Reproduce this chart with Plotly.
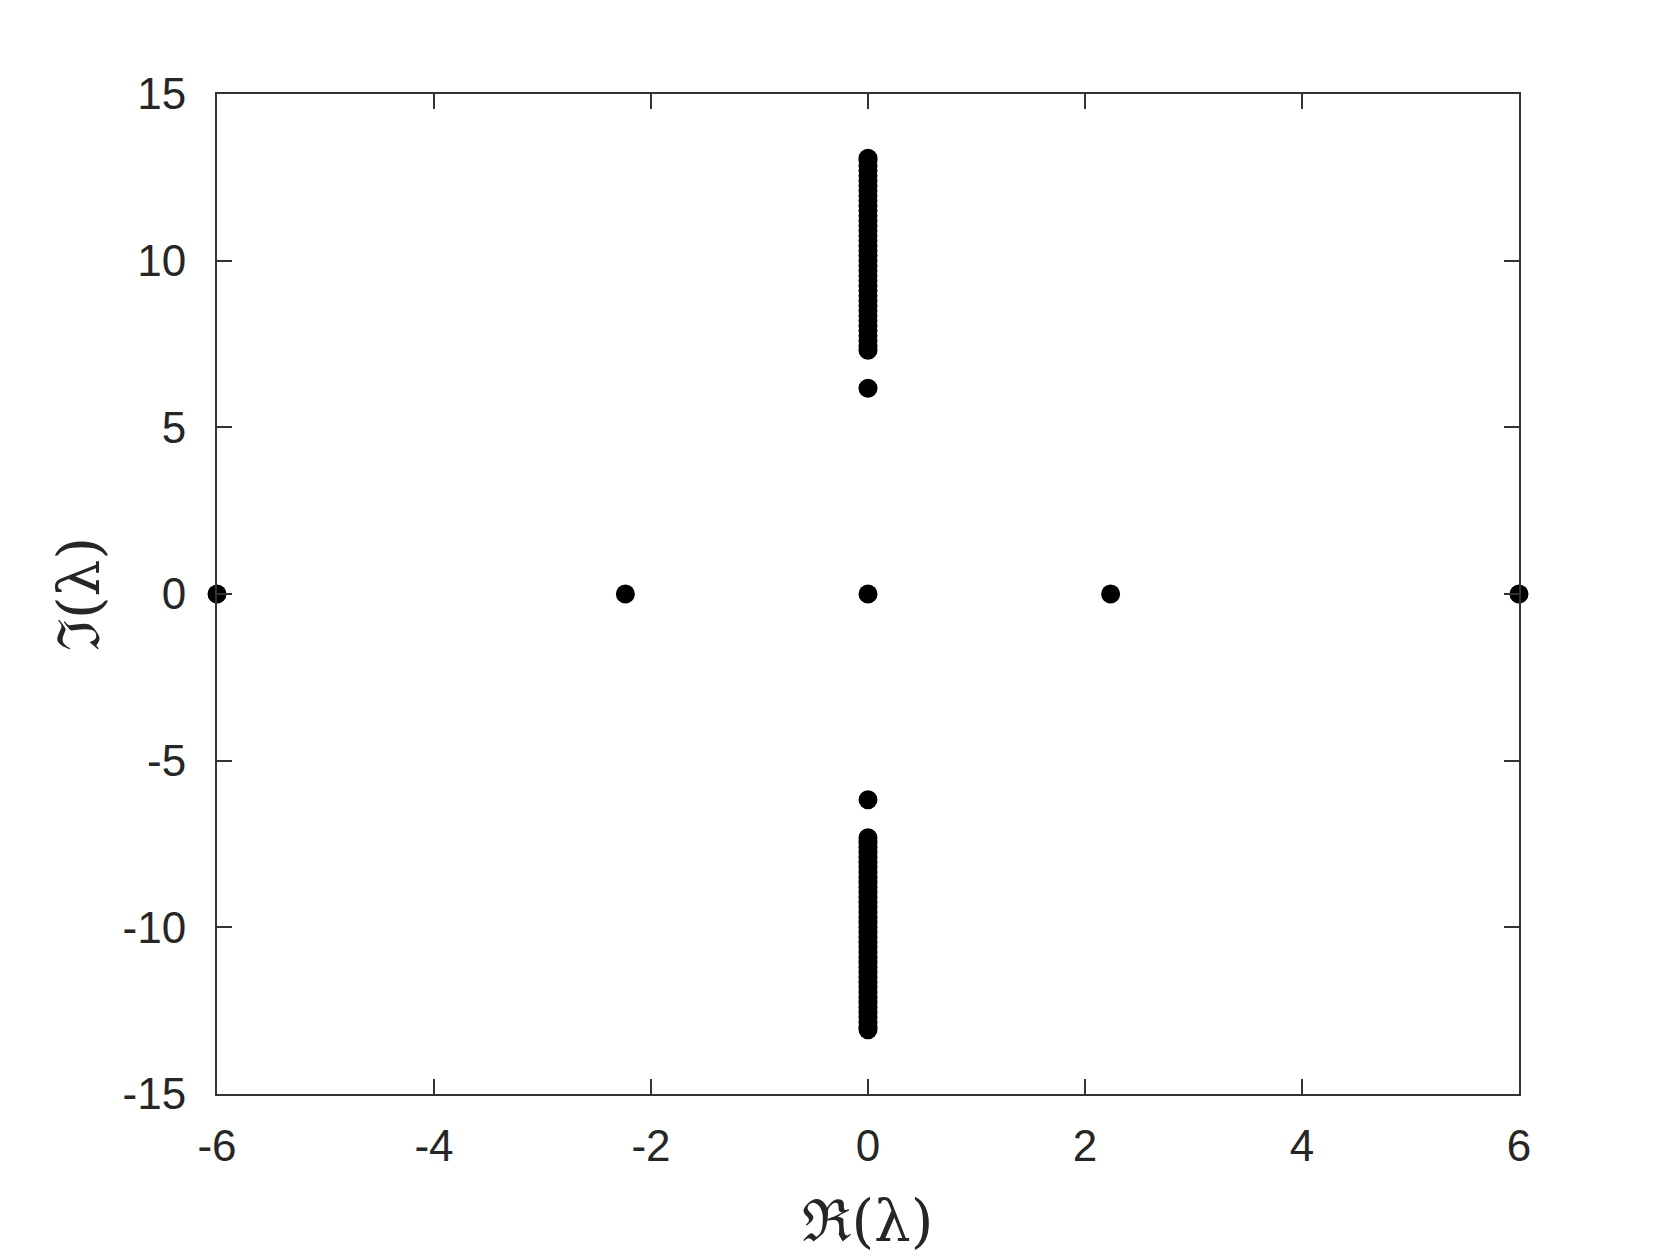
"""
特征值谱散点图 - Plotly
"""

import plotly.graph_objects as go

# 实轴上的特征值
real_re = [-6.0, -2.236, 0.0, 2.236, 6.0]
real_im = [0.0, 0.0, 0.0, 0.0, 0.0]

# 虚轴上的孤立特征值
iso_im = [6.17, -6.17]

# 虚轴上的连续谱（上半部分，下半部分对称）
band_im = [7.31, 7.45, 7.6, 7.75, 7.9, 8.05, 8.2, 8.35, 8.5, 8.65, 8.8, 8.95,
           9.1, 9.25, 9.4, 9.55, 9.7, 9.85, 10.0, 10.15, 10.3, 10.45, 10.6,
           10.75, 10.9, 11.05, 11.2, 11.35, 11.5, 11.65, 11.8, 11.95, 12.1,
           12.25, 12.4, 12.55, 12.7, 12.85, 13.0, 13.07]

x_ticks = [-6, -4, -2, 0, 2, 4, 6]
x_tick_text = ['-6', '-4', '-2', '0', '2', '4', '6']
y_ticks = [-15, -10, -5, 0, 5, 10, 15]
y_tick_text = ['-15', '-10', '-5', '0', '5', '10', '15']

axis_color = '#333333'
marker = dict(color='black', size=19, line=dict(width=0))

im_all = iso_im + band_im + [-v for v in band_im]

fig = go.Figure()

# 实特征值
fig.add_trace(go.Scatter(x=real_re, y=real_im, mode='markers', marker=marker,
                         showlegend=False, cliponaxis=False))

# 纯虚特征值
fig.add_trace(go.Scatter(x=[0.0] * len(im_all), y=im_all, mode='markers',
                         marker=marker, showlegend=False, cliponaxis=False))

fig.update_layout(
    width=1679,
    height=1258,
    plot_bgcolor='white',
    paper_bgcolor='white',
    font=dict(family="Liberation Sans, Arial, sans-serif", size=44, color='#262626'),
    margin=dict(l=209, r=168, t=86, b=172),
)

fig.update_xaxes(
    range=[-6, 6],
    tickvals=x_ticks,
    ticktext=x_tick_text,
    ticks='inside',
    ticklen=15,
    tickwidth=1.5,
    tickcolor=axis_color,
    ticklabelstandoff=12,
    showline=True,
    linewidth=2,
    linecolor=axis_color,
    mirror='ticks',
    showgrid=False,
    zeroline=False,
    title=dict(text='ℜ(λ)', font=dict(family="DejaVu Serif, serif", size=58), standoff=32),
)
fig.update_yaxes(
    range=[-15, 15],
    tickvals=y_ticks,
    ticktext=y_tick_text,
    ticks='inside',
    ticklen=15,
    tickwidth=1.5,
    tickcolor=axis_color,
    ticklabelstandoff=20,
    showline=True,
    linewidth=2,
    linecolor=axis_color,
    mirror='ticks',
    showgrid=False,
    zeroline=False,
    title=dict(text='ℑ(λ)', font=dict(family="DejaVu Serif, serif", size=58), standoff=4),
)

fig.write_html("out.html")
